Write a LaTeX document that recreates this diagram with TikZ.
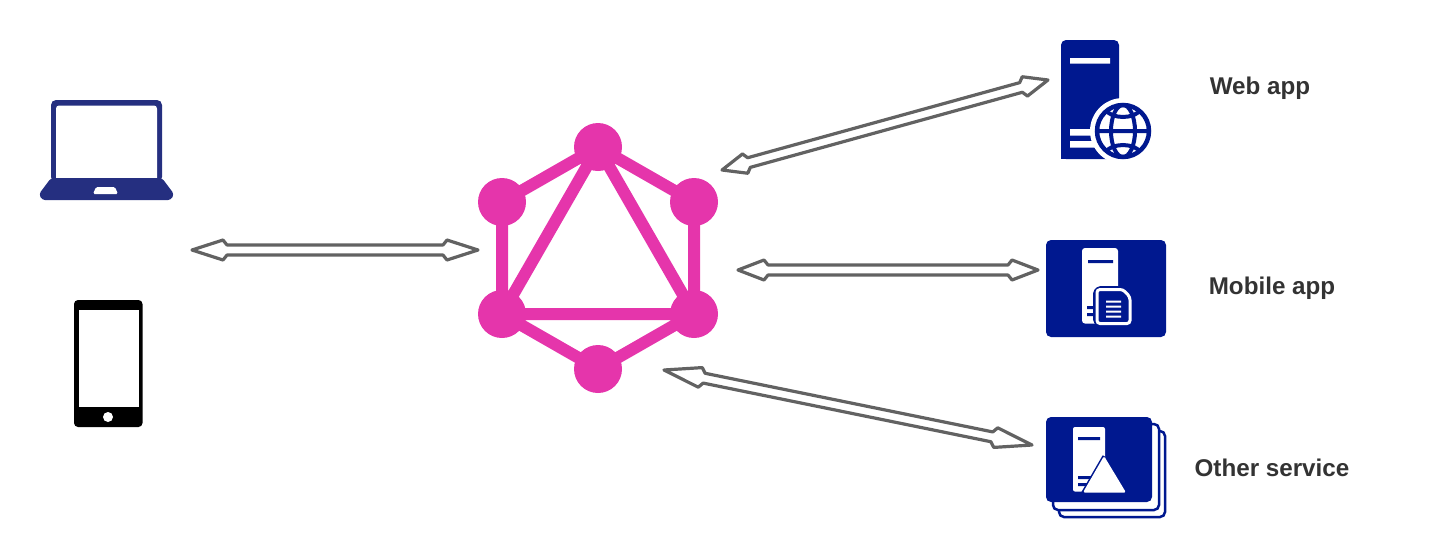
\documentclass[tikz,border=0pt]{standalone}
\usepackage{fontspec}
\setmainfont{Liberation Sans}
\usetikzlibrary{calc}
\definecolor{gqlpink}{HTML}{E535AB}
\definecolor{flowgray}{HTML}{626262}
\definecolor{laptopblue}{HTML}{252F80}
\definecolor{boxblue}{HTML}{00188F}
\definecolor{labelgray}{HTML}{333333}
\tikzset{
	vertex/.style={circle,fill=gqlpink,inner sep=0pt,minimum size=48pt},
	edge/.style={draw=gqlpink,line width=12pt},
	boxlabel/.style={font=\bfseries\fontsize{24.2}{28}\selectfont,text=labelgray,inner sep=0pt},
	flow/.style={draw=flowgray,line width=3.2pt,line join=round,fill=white,
		to path={
			-- ($(\tikztostart)!#1pt!(\tikztotarget)!10pt!90:(\tikztotarget)$)
			-- ($(\tikztostart)!#1pt+4pt!(\tikztotarget)!5pt!90:(\tikztotarget)$)
			-- ($(\tikztotarget)!#1pt+4pt!(\tikztostart)!5pt!-90:(\tikztostart)$)
			-- ($(\tikztotarget)!#1pt!(\tikztostart)!10pt!-90:(\tikztostart)$)
			-- (\tikztotarget)
			-- ($(\tikztotarget)!#1pt!(\tikztostart)!10pt!90:(\tikztostart)$)
			-- ($(\tikztotarget)!#1pt+4pt!(\tikztostart)!5pt!90:(\tikztostart)$)
			-- ($(\tikztostart)!#1pt+4pt!(\tikztotarget)!5pt!-90:(\tikztotarget)$)
			-- ($(\tikztostart)!#1pt!(\tikztotarget)!10pt!-90:(\tikztotarget)$)
			-- cycle}}
}
\begin{document}
\begin{tikzpicture}[x=1pt,y=-1pt]
	\useasboundingbox (0,0) rectangle (1433,558);

	% graph in the middle
	\path (598,147) node[vertex] (g0) {}
	(694,202) node[vertex] (g1) {}
	(694,314) node[vertex] (g2) {}
	(598,369) node[vertex] (g3) {}
	(502,314) node[vertex] (g4) {}
	(502,202) node[vertex] (g5) {};

	\draw[edge] (g0.center) -- (g1.center)
	(g1.center) -- (g2.center)
	(g2.center) -- (g3.center)
	(g3.center) -- (g4.center)
	(g4.center) -- (g5.center)
	(g5.center) -- (g0.center)
	(g0.center) -- (g2.center)
	(g2.center) -- (g4.center)
	(g4.center) -- (g0.center);

	% arrows
	\path (192,250) coordinate (a1)
	(478,250) coordinate (a2)
	(722,170) coordinate (b1)
	(1048,80) coordinate (b2)
	(738,270) coordinate (c1)
	(1038,270) coordinate (c2)
	(664,370) coordinate (d1)
	(1032,445) coordinate (d2);

	\draw[flow=31] (a1) to (a2);
	\draw[flow=24] (b1) to (b2);
	\draw[flow=26] (c1) to (c2);
	\draw[flow=37] (d1) to (d2);

	% laptop
	\fill[laptopblue,rounded corners=5pt] (51,182) -- (51,100) -- (162,100) -- (162,182) -- cycle;
	\fill[white,rounded corners=3pt] (56,182) -- (56,105.5) -- (157,105.5) -- (157,182) -- cycle;
	\fill[laptopblue,rounded corners=3pt] (51,178) -- (162,178) -- (174,194) -- (171,200) -- (42,200) -- (39,194) -- cycle;
	\fill[white,rounded corners=1.5pt] (96,187) -- (115,187) -- (118,194) -- (93,194) -- cycle;

	% phone
	\fill[black,rounded corners=4pt] (74,300) rectangle (142.5,427);
	\fill[white] (78.5,309.5) rectangle (138.5,407);
	\fill[white] (108,417) circle (5pt);

	% web app
	\fill[boxblue,rounded corners=5pt] (1061,159) -- (1061,40) -- (1119,40) -- (1119,159) -- cycle;
	\fill[boxblue] (1061,150) rectangle (1119,159);
	\fill[white] (1070,58) rectangle (1110,63.5)
	(1070,129) rectangle (1100,135.5)
	(1070,141) rectangle (1100,147.5);
	\fill[white] (1123,131) circle (33pt);
	\draw[boxblue,line width=4.5pt,fill=white] (1123,131) circle (26pt);
	\begin{scope}
		\clip (1123,131) circle (27pt);
		\draw[boxblue,line width=4pt] (1095,131) -- (1151,131)
		(1123,131) ellipse (12pt and 26pt)
		(1103,108) .. controls (1112,120) and (1134,120) .. (1143,108)
		(1103,154) .. controls (1112,142) and (1134,142) .. (1143,154);
	\end{scope}

	% mobile app
	\fill[boxblue,rounded corners=5pt] (1046,240) rectangle (1166,337);
	\fill[white,rounded corners=3pt] (1082,323.5) -- (1082,248) -- (1118,248) -- (1118,323.5) -- cycle;
	\fill[boxblue] (1088,260) rectangle (1113,263)
	(1087,306) rectangle (1095,309)
	(1087,313) rectangle (1095,316);
	\draw[boxblue,line width=8pt,rounded corners=4pt,line join=round] (1097,290) -- (1121,290) -- (1130,299) -- (1130,323) -- (1097,323) -- cycle;
	\draw[white,fill=boxblue,line width=3pt,rounded corners=3pt] (1097,289.5) -- (1123,289.5) -- (1130,297) -- (1130,323.5) -- (1097,323.5) -- cycle;
	\fill[white] (1106,300.5) rectangle (1121,302.5)
	(1106,305.5) rectangle (1121,307.5)
	(1106,310.5) rectangle (1121,312.5)
	(1106,315.5) rectangle (1121,317.5);

	% other service
	\draw[boxblue,line width=2.5pt,fill=white,rounded corners=5pt] (1059,431) rectangle (1165,517);
	\draw[boxblue,line width=2.5pt,fill=white,rounded corners=5pt] (1053,424) rectangle (1159,510);
	\fill[boxblue,rounded corners=5pt] (1046,417) rectangle (1152,502);
	\fill[white,rounded corners=2pt] (1073,491.5) -- (1073,427) -- (1105,427) -- (1105,491.5) -- cycle;
	\fill[boxblue] (1078,437) rectangle (1100,440)
	(1078,476) rectangle (1092,479)
	(1078,483) rectangle (1092,486);
	\draw[boxblue,line width=3pt,line join=round] (1104,456) -- (1082,494);
	\fill[white,rounded corners=1.5pt] (1104,456) -- (1126,492.5) -- (1083,492.5) -- cycle;

	% labels
	\path (1260,86) node[boxlabel,yshift=-2pt] (webapp) {Web app}
	(1272,286) node[boxlabel,yshift=-2pt] (mobileapp) {Mobile app}
	(1272,468) node[boxlabel] (otherservice) {Other service};
\end{tikzpicture}
\end{document}
